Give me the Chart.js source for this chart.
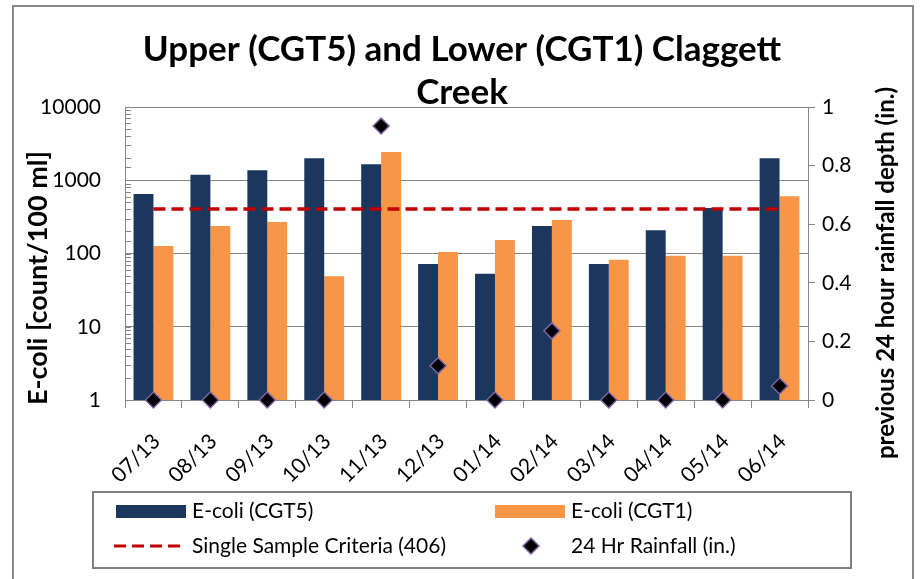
<!DOCTYPE html>
<html>
<head>
<meta charset="utf-8">
<title>Claggett Creek E-coli</title>
<script src="https://cdn.jsdelivr.net/npm/chart.js@4.4.0/dist/chart.umd.min.js"></script>
<style>
  html, body { margin: 0; padding: 0; background: #fff; }
</style>
</head>
<body>
<canvas id="chart" width="922" height="579"></canvas>
<script>
// datos
const months = ['07/13', '08/13', '09/13', '10/13', '11/13', '12/13', '01/14', '02/14', '03/14', '04/14', '05/14', '06/14'];
const ecoliCGT5 = [650, 1190, 1370, 2000, 1650, 72, 53, 237, 72, 207, 418, 2000];
const ecoliCGT1 = [127, 237, 269, 49, 2430, 105, 153, 287, 82, 93, 93, 604];
const criteria = [406, 406, 406, 406, 406, 406, 406, 406, 406, 406, 406, 406];
const rainfall = [0, 0, 0, 0, 0.935, 0.117, 0, 0.236, 0, 0, 0, 0.048];
const leftTicks = [1, 10, 100, 1000, 10000];

// colores
const blue = '#1b375e';
const orange = '#f79646';
const red = '#c00000';
const gray = '#868686';
const font = 'Lato, "Open Sans", sans-serif';

Chart.defaults.font.family = font;
Chart.defaults.color = '#000';

// titulo, titulos de ejes, leyenda, marco y marcas menores
const extras = {
    id: 'extras',
    afterDraw(chart) {
        const ctx = chart.ctx;
        ctx.save();

        // marco exterior
        ctx.strokeStyle = '#898989';
        ctx.lineWidth = 2;
        ctx.strokeRect(13, 6, 900, 590);

        // titulo
        ctx.fillStyle = '#000';
        ctx.font = 'bold 35px ' + font;
        ctx.textAlign = 'center';
        ctx.textBaseline = 'middle';
        ctx.fillText('Upper (CGT5) and Lower (CGT1) Claggett', 462, 50);
        ctx.fillText('Creek', 462, 93);

        // titulos de ejes
        ctx.save();
        ctx.translate(38, 278);
        ctx.rotate(-Math.PI / 2);
        ctx.font = 'bold 27px ' + font;
        ctx.fillText('E-coli [count/100 ml]', 0, 0);
        ctx.restore();

        ctx.save();
        ctx.translate(886, 273);
        ctx.rotate(-Math.PI / 2);
        ctx.font = 'bold 24px ' + font;
        ctx.fillText('previous 24 hour rainfall depth (in.)', 0, 0);
        ctx.restore();

        // marcas menores del eje log
        const y = chart.scales.y;
        ctx.strokeStyle = gray;
        ctx.lineWidth = 1;
        for (let t of y.ticks) {
            const py = Math.round(y.getPixelForValue(t.value)) + 0.5;
            ctx.beginPath();
            ctx.moveTo(y.right, py);
            ctx.lineTo(y.right + 6, py);
            ctx.stroke();
        }

        // leyenda
        ctx.fillStyle = '#fff';
        ctx.fillRect(93, 492, 758, 76);
        ctx.strokeStyle = '#7f7f7f';
        ctx.lineWidth = 2;
        ctx.strokeRect(93, 492, 758, 76);

        const items = chart.data.datasets;
        ctx.textAlign = 'left';
        ctx.fillStyle = blue;
        ctx.fillRect(116, 505, 70, 13);
        ctx.fillStyle = orange;
        ctx.fillRect(495, 505, 70, 13);

        ctx.strokeStyle = red;
        ctx.lineWidth = 3;
        ctx.setLineDash([12, 6]);
        ctx.beginPath();
        ctx.moveTo(114, 546);
        ctx.lineTo(186, 546);
        ctx.stroke();
        ctx.setLineDash([]);

        ctx.fillStyle = '#000';
        ctx.strokeStyle = '#8064a2';
        ctx.lineWidth = 1.5;
        ctx.beginPath();
        ctx.moveTo(531, 538);
        ctx.lineTo(539, 546);
        ctx.lineTo(531, 554);
        ctx.lineTo(523, 546);
        ctx.closePath();
        ctx.fill();
        ctx.stroke();

        ctx.fillStyle = '#000';
        ctx.font = '21px ' + font;
        ctx.fillText(items[0].label, 192, 511);
        ctx.fillText(items[1].label, 571, 511);
        ctx.fillText(items[2].label, 192, 546);
        ctx.fillText(items[3].label, 571, 546);

        ctx.restore();
    }
};

let ctx1 = document.getElementById('chart').getContext('2d');
let myChart = new Chart(ctx1, {
    data: {
        labels: months,
        datasets: [{
            type: 'bar',
            label: 'E-coli (CGT5)',
            data: ecoliCGT5,
            backgroundColor: blue,
            yAxisID: 'y',
            order: 3
        }, {
            type: 'bar',
            label: 'E-coli (CGT1)',
            data: ecoliCGT1,
            backgroundColor: orange,
            yAxisID: 'y',
            order: 3
        }, {
            type: 'line',
            label: 'Single Sample Criteria (406)',
            data: criteria,
            borderColor: red,
            borderWidth: 3.5,
            borderDash: [12, 6],
            pointRadius: 0,
            yAxisID: 'y',
            order: 2
        }, {
            type: 'line',
            label: '24 Hr Rainfall (in.)',
            data: rainfall,
            showLine: false,
            pointStyle: 'rectRot',
            pointRadius: 8,
            backgroundColor: '#000',
            borderColor: '#8064a2',
            borderWidth: 1.5,
            yAxisID: 'y1',
            clip: false,
            order: 1
        }]
    },
    options: {
        responsive: false,
        devicePixelRatio: 1,
        animation: false,
        layout: { padding: { left: 14, right: 10, top: 107, bottom: 79 } },
        datasets: { bar: { categoryPercentage: 0.7, barPercentage: 1 } },
        plugins: {
            legend: { display: false },
            tooltip: { enabled: false }
        },
        scales: {
            x: {
                grid: { drawOnChartArea: false, drawTicks: true, tickLength: 8, color: gray },
                border: { color: gray },
                ticks: { minRotation: 45, maxRotation: 45, font: { size: 21 }, padding: 21, labelOffset: 3 },
                afterFit: function (scale) { scale.height = 100; }
            },
            y: {
                type: 'logarithmic',
                position: 'left',
                min: 1,
                max: 10000,
                grid: {
                    drawTicks: false,
                    color: function (c) {
                        return leftTicks.includes(c.tick.value) ? gray : 'rgba(0,0,0,0)';
                    }
                },
                border: { color: gray },
                ticks: {
                    padding: 24,
                    font: { size: 21 },
                    autoSkip: false,
                    callback: function (v) { return leftTicks.includes(v) ? String(v) : ''; }
                },
                afterFit: function (scale) { scale.width = 111; }
            },
            y1: {
                position: 'right',
                min: 0,
                max: 1,
                ticks: {
                    stepSize: 0.2,
                    font: { size: 21 },
                    padding: 7,
                    callback: function (v) { return String(+v.toFixed(1)); }
                },
                grid: { drawOnChartArea: false, drawTicks: true, tickLength: 7, color: gray },
                border: { color: gray },
                afterFit: function (scale) { scale.width = 104; }
            }
        }
    },
    plugins: [extras]
});
</script>
</body>
</html>
